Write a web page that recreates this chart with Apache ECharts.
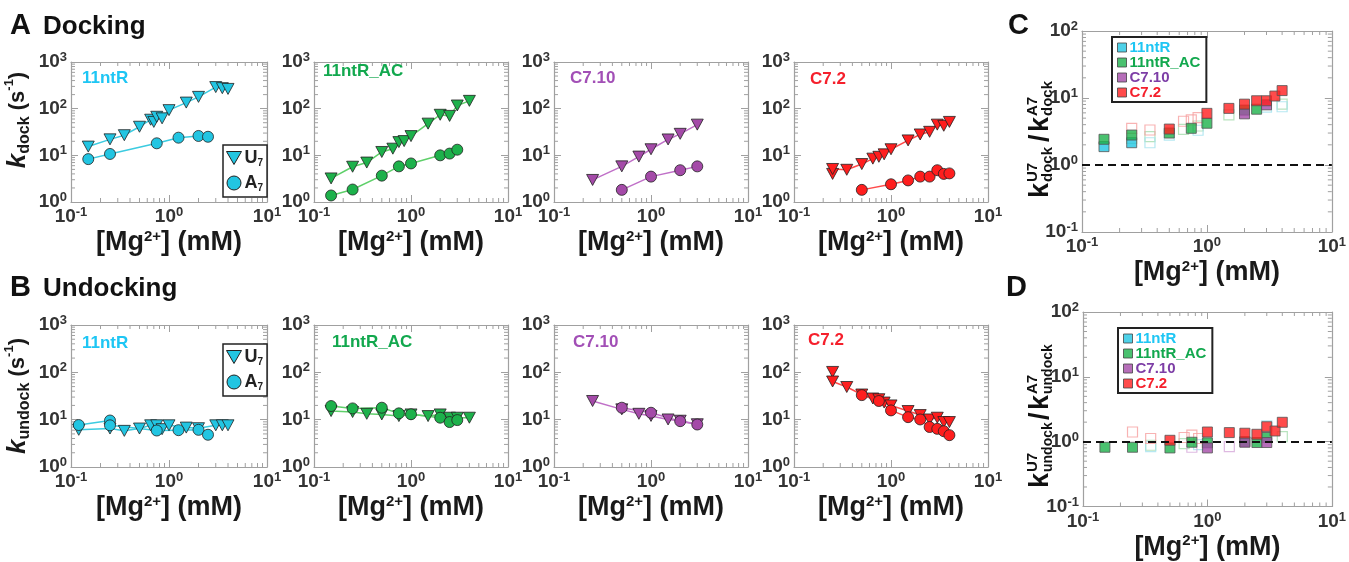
<!DOCTYPE html>
<html>
<head>
<meta charset="utf-8">
<script src="https://cdn.jsdelivr.net/npm/echarts@6/dist/echarts.min.js"></script>
<style>
html, body { margin: 0; padding: 0; background: #fff; }
#chart { width: 1349px; height: 562px; }
</style>
</head>
<body>
<div id="chart"></div>
<script>
// ---- data: [Mg2+] (mM), rate (s^-1) ----
// panel A, docking
const dock11ntR_U7 = [[0.15, 15.4], [0.25, 22], [0.35, 27], [0.5, 41], [0.65, 58], [0.7, 52], [0.75, 67], [0.85, 62], [1.0, 93], [1.5, 135], [2.0, 179], [3.0, 290], [3.5, 275], [4.0, 265]];
const dock11ntR_A7 = [[0.15, 8.3], [0.25, 10.7], [0.75, 18.1], [1.25, 23.9], [2.0, 26], [2.5, 25]];
const dock11ntRAC_U7 = [[0.15, 3.2], [0.25, 5.7], [0.35, 7.0], [0.5, 11.8], [0.65, 13.9], [0.75, 19.2], [0.85, 20.2], [1.0, 25.8], [1.5, 47.8], [2.0, 74], [2.5, 70], [3.0, 117], [4.0, 147]];
const dock11ntRAC_A7 = [[0.15, 1.38], [0.25, 1.85], [0.5, 3.67], [0.75, 5.8], [1.0, 6.7], [2.0, 10.0], [2.5, 10.9], [3.0, 13.2]];
const dockC710_U7 = [[0.25, 2.97], [0.5, 5.8], [0.75, 9.4], [1.0, 13.5], [1.5, 21.9], [2.0, 28.9], [3.0, 45.5]];
const dockC710_A7 = [[0.5, 1.82], [1.0, 3.5], [2.0, 4.8], [3.0, 5.8]];
const dockC72_U7 = [[0.25, 4.0], [0.25, 5.1], [0.35, 4.9], [0.5, 6.5], [0.65, 8.5], [0.75, 9.3], [0.85, 10.5], [1.0, 13.5], [1.5, 20.9], [2.0, 28], [2.5, 31.9], [3.0, 45.5], [3.5, 43], [4.0, 52]];
const dockC72_A7 = [[0.5, 1.82], [1.0, 2.4], [1.5, 2.9], [2.0, 3.5], [2.5, 3.5], [3.0, 4.8], [3.5, 4.0], [4.0, 4.1]];

// panel B, undocking
const undock11ntR_U7 = [[0.12, 6.1], [0.25, 6.5], [0.35, 5.8], [0.5, 6.5], [0.65, 7.6], [0.75, 7.6], [0.85, 6.3], [1.0, 7.6], [1.5, 6.8], [2.0, 6.6], [3.0, 7.6], [3.5, 7.6], [4.0, 7.6]];
const undock11ntR_A7 = [[0.12, 7.7], [0.25, 9.6], [0.25, 7.6], [0.75, 5.9], [1.25, 6.0], [2.0, 6.1], [2.5, 4.8]];
const undock11ntRAC_U7 = [[0.15, 15.2], [0.25, 14.5], [0.35, 13.3], [0.5, 12.9], [0.75, 11.9], [1.0, 12.9], [1.5, 11.9], [2.0, 12.9], [2.5, 11], [3.0, 11], [4.0, 11]];
const undock11ntRAC_A7 = [[0.15, 19.4], [0.25, 17.3], [0.5, 17.9], [0.75, 13.6], [1.0, 13], [2.0, 11], [2.5, 8.9], [3.0, 9.8]];
const undockC710_U7 = [[0.25, 24.8], [0.5, 16.5], [0.75, 13.3], [1.0, 12], [1.5, 10.1], [2.0, 9.5], [3.0, 8]];
const undockC710_A7 = [[0.5, 17.9], [1.0, 14], [2.0, 9.3], [3.0, 7.9]];
const undockC72_U7 = [[0.25, 102], [0.25, 64], [0.35, 49], [0.5, 34], [0.65, 28], [0.75, 27], [0.85, 23], [1.0, 20], [1.5, 15.2], [2.0, 12.5], [2.5, 10.1], [3.0, 11], [3.5, 8.9], [4.0, 8.9]];
const undockC72_A7 = [[0.5, 33], [0.75, 24.8], [1.0, 15.7], [1.5, 11.3], [2.0, 10.1], [2.5, 7], [3.0, 6.4], [3.5, 5.7], [4.0, 4.7]];

// panel C, k_dock(U7)/k_dock(A7): filled and open squares
const ratioDock_11ntR = [[0.15, 1.88], [0.25, 2.15]];
const ratioDock_11ntRAC = [[0.15, 2.42], [0.25, 2.8], [0.5, 3.0], [0.75, 3.53], [1.0, 4.2], [2.0, 6.6], [2.5, 6.8]];
const ratioDock_C710 = [[2.0, 5.8], [3.0, 7.9]];
const ratioDock_C72 = [[0.5, 3.44], [1.0, 5.9], [1.5, 7.0], [2.0, 8.1], [2.5, 9.1], [3.0, 9.1], [3.5, 10.7], [4.0, 12.9]];
const ratioDockOpen_11ntR = [[0.35, 2.15], [0.5, 2.8], [0.85, 3.3], [3.0, 7.3], [4.0, 7.4]];
const ratioDockOpen_11ntRAC = [[0.25, 2.5], [0.35, 2.65], [0.65, 3.4], [0.85, 3.82], [1.5, 5.6], [4.0, 8.1]];
const ratioDockOpen_C72 = [[0.25, 3.53], [0.35, 3.33], [0.65, 4.5], [0.75, 4.7], [0.85, 5.08]];

// panel D, k_undock(U7)/k_undock(A7)
const ratioUndock_11ntRAC = [[0.15, 0.82], [0.25, 0.82], [0.5, 0.8], [0.75, 0.98], [1.0, 0.96], [2.0, 1.0], [2.5, 0.97], [3.0, 1.16]];
const ratioUndock_C710 = [[1.0, 0.8], [2.0, 0.98], [3.0, 0.97]];
const ratioUndock_C72 = [[0.5, 1.05], [1.0, 1.41], [1.5, 1.38], [2.0, 1.35], [2.5, 1.3], [3.0, 1.7], [3.5, 1.46], [4.0, 1.99]];
const ratioUndockOpen_11ntR = [[0.35, 0.84], [0.85, 0.9], [3.0, 1.75]];
const ratioUndockOpen_11ntRAC = [[0.35, 0.88], [0.65, 0.93], [4.0, 1.2]];
const ratioUndockOpen_C710 = [[0.75, 0.82], [1.5, 0.84]];
const ratioUndockOpen_C72 = [[0.25, 1.41], [0.35, 1.12], [0.65, 1.16], [0.75, 1.26], [0.85, 1.12]];

const constructs = ['11ntR', '11ntR_AC', 'C7.10', 'C7.2'];

// minor tick positions of the log axes
const minorX = [0.2, 0.3, 0.4, 0.5, 0.6, 0.7, 0.8, 0.9, 2, 3, 4, 5, 6, 7, 8, 9];
const minorYRate = [2, 3, 4, 5, 6, 7, 8, 9, 20, 30, 40, 50, 60, 70, 80, 90, 200, 300, 400, 500, 600, 700, 800, 900];
const minorYRatio = [0.2, 0.3, 0.4, 0.5, 0.6, 0.7, 0.8, 0.9, 2, 3, 4, 5, 6, 7, 8, 9, 20, 30, 40, 50, 60, 70, 80, 90];

// ---- style ----
const FONT = '"Liberation Sans", Arial, sans-serif';
const fill = { '11ntR': '#22c5e2', '11ntR_AC': '#1db14b', 'C7.10': '#a44aa8', 'C7.2': '#ff1e1e' };
const lineCol = { '11ntR': '#3ccbe0', '11ntR_AC': '#5fd06a', 'C7.10': '#c070c8', 'C7.2': '#ff4a4a' };
const labelCol = { '11ntR': '#1ec6f4', '11ntR_AC': '#12a84e', 'C7.10': '#a24fb6', 'C7.2': '#f5202c' };
const legendCol = { '11ntR': '#1ec6f4', '11ntR_AC': '#12a84e', 'C7.10': '#7d3ea6', 'C7.2': '#f5202c' };
const openCol = { '11ntR': '#a4e2ee', '11ntR_AC': '#a6dcae', 'C7.10': '#d6a8da', 'C7.2': '#f6a0a0' };
const frame = '#a0a0a0';
const triDown = 'path://M0,0L10,0L5,8.66Z';

const grids = [
  { left: 71, top: 62, width: 196, height: 140 },
  { left: 314, top: 62, width: 194, height: 140 },
  { left: 554, top: 62, width: 194, height: 140 },
  { left: 794, top: 62, width: 194, height: 140 },
  { left: 71, top: 325, width: 196, height: 142 },
  { left: 314, top: 325, width: 194, height: 142 },
  { left: 554, top: 325, width: 194, height: 142 },
  { left: 794, top: 325, width: 194, height: 142 },
  { left: 1082, top: 31, width: 256, height: 201 },
  { left: 1083, top: 312, width: 256, height: 201 }
];

const tickRich = {
  b: { fontSize: 19, fontWeight: 'bold', color: '#333', fontFamily: FONT, lineHeight: 22 },
  s: { fontSize: 13, fontWeight: 'bold', color: '#333', fontFamily: FONT, lineHeight: 12, verticalAlign: 'top' }
};
function powLabel(v) {
  const e = Math.round(Math.log10(v));
  return '{b|10}{s|' + e + '}';
}
const mgName = '{n|[Mg}{p|2+}{n|] (mM)}';
const mgRich = {
  n: { fontSize: 27, fontWeight: 'bold', color: '#1a1a1a', fontFamily: FONT, lineHeight: 28 },
  p: { fontSize: 15, fontWeight: 'bold', color: '#1a1a1a', fontFamily: FONT, lineHeight: 14, verticalAlign: 'top' }
};
function kRich(shift) {
  return {
    padding: [0, 0, 0, shift],
    rich: {
      k: { fontSize: 26, fontWeight: 'bold', fontStyle: 'italic', color: '#1a1a1a', fontFamily: FONT, lineHeight: 30 },
      d: { fontSize: 16, fontWeight: 'bold', color: '#1a1a1a', fontFamily: FONT, lineHeight: 14, verticalAlign: 'bottom' },
      n: { fontSize: 22, fontWeight: 'bold', color: '#1a1a1a', fontFamily: FONT, lineHeight: 30 },
      p: { fontSize: 13, fontWeight: 'bold', color: '#1a1a1a', fontFamily: FONT, lineHeight: 15, verticalAlign: 'top' }
    }
  };
}

function logAxis(gi, pos, min, max, withLabel, extra) {
  return Object.assign({
    type: 'log', logBase: 10, gridIndex: gi, position: pos, min: min, max: max,
    axisLine: { show: true, onZero: false, lineStyle: { color: frame, width: 1.2 } },
    axisTick: { show: true, inside: true, length: 7, lineStyle: { color: frame, width: 1 } },
    minorTick: { show: false },
    splitLine: { show: false },
    axisLabel: { show: withLabel, formatter: powLabel, rich: tickRich, margin: 4, hideOverlap: false },
    nameLocation: 'middle'
  }, extra || {});
}

const xAxes = [], yAxes = [];
grids.forEach(function (g, gi) {
  const ratio = gi >= 8;
  const yMin = ratio ? 0.1 : 1, yMax = ratio ? 100 : 1000;
  xAxes.push(logAxis(gi, 'bottom', 0.1, 10, true, { name: mgName, nameGap: 27, nameTextStyle: { rich: mgRich } }));
  xAxes.push(logAxis(gi, 'top', 0.1, 10, false));
  let yExtra = {};
  if (gi === 0) yExtra = { name: '{k|k}{d|dock}{n| (s}{p|-1}{n|)}', nameRotate: 90, nameGap: 38, nameTextStyle: kRich(24) };
  if (gi === 4) yExtra = { name: '{k|k}{d|undock}{n| (s}{p|-1}{n|)}', nameRotate: 90, nameGap: 38, nameTextStyle: kRich(0) };
  yAxes.push(logAxis(gi, 'left', yMin, yMax, true, yExtra));
  yAxes.push(logAxis(gi, 'right', yMin, yMax, false));
});

const series = [];

// minor ticks on all four sides of each frame
function minorTicks(gi, values, isX, other) {
  series.push({
    type: 'custom', xAxisIndex: 2 * gi, yAxisIndex: 2 * gi, silent: true, clip: false, z: 1,
    data: values.map(function (v) { return isX ? [v, other] : [other, v]; }),
    renderItem: function (params, api) {
      const p = api.coord([api.value(0), api.value(1)]);
      const cs = params.coordSys;
      const st = { stroke: frame, lineWidth: 1 };
      const L = 4;
      if (isX) {
        return { type: 'group', children: [
          { type: 'line', shape: { x1: p[0], y1: cs.y + cs.height, x2: p[0], y2: cs.y + cs.height - L }, style: st },
          { type: 'line', shape: { x1: p[0], y1: cs.y, x2: p[0], y2: cs.y + L }, style: st }
        ] };
      }
      return { type: 'group', children: [
        { type: 'line', shape: { x1: cs.x, y1: p[1], x2: cs.x + L, y2: p[1] }, style: st },
        { type: 'line', shape: { x1: cs.x + cs.width, y1: p[1], x2: cs.x + cs.width - L, y2: p[1] }, style: st }
      ] };
    }
  });
}
grids.forEach(function (g, gi) {
  const ratio = gi >= 8;
  minorTicks(gi, minorX, true, ratio ? 1 : 10);
  minorTicks(gi, ratio ? minorYRatio : minorYRate, false, 1);
});

function kinetic(gi, key, u7, a7) {
  series.push({
    name: 'U7', type: 'line', xAxisIndex: 2 * gi, yAxisIndex: 2 * gi, data: u7, z: 3,
    symbol: triDown, symbolSize: [12, 11], lineStyle: { color: lineCol[key], width: 1.5 },
    itemStyle: { color: fill[key], borderColor: '#222', borderWidth: 0.8 }
  });
  series.push({
    name: 'A7', type: 'line', xAxisIndex: 2 * gi, yAxisIndex: 2 * gi, data: a7, z: 3,
    symbol: 'circle', symbolSize: 11, lineStyle: { color: lineCol[key], width: 1.5 },
    itemStyle: { color: fill[key], borderColor: '#222', borderWidth: 0.8 }
  });
}
kinetic(0, '11ntR', dock11ntR_U7, dock11ntR_A7);
kinetic(1, '11ntR_AC', dock11ntRAC_U7, dock11ntRAC_A7);
kinetic(2, 'C7.10', dockC710_U7, dockC710_A7);
kinetic(3, 'C7.2', dockC72_U7, dockC72_A7);
kinetic(4, '11ntR', undock11ntR_U7, undock11ntR_A7);
kinetic(5, '11ntR_AC', undock11ntRAC_U7, undock11ntRAC_A7);
kinetic(6, 'C7.10', undockC710_U7, undockC710_A7);
kinetic(7, 'C7.2', undockC72_U7, undockC72_A7);

function squares(gi, key, data, open, withLine) {
  const s = {
    name: open ? key + ' open' : key, type: 'scatter', xAxisIndex: 2 * gi, yAxisIndex: 2 * gi, data: data, z: 3,
    symbol: 'rect', symbolSize: 10,
    itemStyle: open ? { color: 'rgba(255,255,255,0)', borderColor: openCol[key], borderWidth: 1.2 }
                    : { color: fill[key], borderColor: '#555', borderWidth: 1 }
  };
  if (withLine) {
    s.markLine = {
      silent: true, symbol: 'none', label: { show: false },
      lineStyle: { type: [8, 5], color: '#111', width: 2 },
      data: [{ yAxis: 1 }]
    };
  }
  series.push(s);
}
squares(8, '11ntR_AC', ratioDockOpen_11ntRAC, true, true);
squares(8, '11ntR', ratioDockOpen_11ntR, true);
squares(8, 'C7.2', ratioDockOpen_C72, true);
squares(8, '11ntR', ratioDock_11ntR, false);
squares(8, '11ntR_AC', ratioDock_11ntRAC, false);
squares(8, 'C7.10', ratioDock_C710, false);
squares(8, 'C7.2', ratioDock_C72, false);

squares(9, '11ntR_AC', ratioUndockOpen_11ntRAC, true, true);
squares(9, '11ntR', ratioUndockOpen_11ntR, true);
squares(9, 'C7.10', ratioUndockOpen_C710, true);
squares(9, 'C7.2', ratioUndockOpen_C72, true);
squares(9, '11ntR_AC', ratioUndock_11ntRAC, false);
squares(9, 'C7.10', ratioUndock_C710, false);
squares(9, 'C7.2', ratioUndock_C72, false);

// ---- legends ----
function kLegend(left, top) {
  return {
    left: left, top: top, orient: 'vertical', selectedMode: false,
    backgroundColor: '#fff', borderColor: '#222', borderWidth: 1.5, padding: [4, 4, 4, 3],
    itemWidth: 15, itemHeight: 14, itemGap: 6,
    data: [
      { name: 'U7', icon: triDown, itemStyle: { color: fill['11ntR'], borderColor: '#222', borderWidth: 1 } },
      { name: 'A7', icon: 'circle', itemStyle: { color: fill['11ntR'], borderColor: '#222', borderWidth: 1 } }
    ],
    formatter: function (n) { return '{m|' + n[0] + '}{s|' + n.slice(1) + '}'; },
    textStyle: {
      padding: [0, 0, 0, -2],
      rich: {
        m: { fontSize: 18, fontWeight: 'bold', color: '#222', fontFamily: FONT, lineHeight: 20 },
        s: { fontSize: 10, fontWeight: 'bold', color: '#222', fontFamily: FONT, lineHeight: 10, verticalAlign: 'bottom' }
      }
    }
  };
}
function rLegend(left, top) {
  return {
    left: left, top: top, orient: 'vertical', selectedMode: false,
    backgroundColor: '#fff', borderColor: '#222', borderWidth: 2, padding: [3, 6, 2, 5],
    itemWidth: 9, itemHeight: 9, itemGap: 0,
    data: constructs.map(function (c) {
      return { name: c, icon: 'rect', itemStyle: { color: fill[c], borderColor: '#444', borderWidth: 1 },
               textStyle: { color: legendCol[c] } };
    }),
    textStyle: { fontSize: 15, fontWeight: 'bold', fontFamily: FONT, lineHeight: 14, padding: [0, 0, 0, -2] }
  };
}

// ---- titles / panel labels ----
function txt(text, left, top, size, color) {
  return { text: text, left: left, top: top, padding: 0,
           textStyle: { fontSize: size, fontWeight: 'bold', color: color || '#111', fontFamily: FONT } };
}
const titles = [
  txt('A', 10, 11, 29), txt('Docking', 43, 14, 26),
  txt('B', 10, 273, 29), txt('Undocking', 43, 276, 26),
  txt('C', 1008, 11, 29), txt('D', 1006, 273, 29),
  txt('11ntR', 82, 70, 17, labelCol['11ntR']),
  txt('11ntR_AC', 323, 63, 17, labelCol['11ntR_AC']),
  txt('C7.10', 570, 70, 17, labelCol['C7.10']),
  txt('C7.2', 810, 71, 17, labelCol['C7.2']),
  txt('11ntR', 82, 335, 17, labelCol['11ntR']),
  txt('11ntR_AC', 332, 334, 17, labelCol['11ntR_AC']),
  txt('C7.10', 573, 334, 17, labelCol['C7.10']),
  txt('C7.2', 808, 332, 17, labelCol['C7.2'])
];

// rotated ratio labels for C and D
function ratioLabel(x, y, sub, subSize, w) {
  const t = function (text, lx, ly, size) {
    return { type: 'text', x: lx, y: ly,
             style: { text: text, fontSize: size, fontWeight: 'bold', fontFamily: FONT, fill: '#111',
                      align: 'left', verticalAlign: 'middle' } };
  };
  return {
    type: 'group', x: x, y: y, rotation: Math.PI / 2,
    children: [
      t('k', 0, 0, 27), t('U7', 16, -8, 15), t(sub, 16, 7, subSize),
      t('/', 19 + w, 0, 27),
      t('k', 29 + w, 0, 27), t('A7', 45 + w, -8, 15), t(sub, 45 + w, 7, subSize)
    ]
  };
}

const option = {
  animation: false,
  backgroundColor: '#fff',
  title: titles,
  grid: grids.map(function (g) { return Object.assign({ containLabel: false }, g); }),
  xAxis: xAxes,
  yAxis: yAxes,
  legend: [kLegend(223, 145), kLegend(223, 344), rLegend(1112, 37), rLegend(1118, 328)],
  graphic: [ratioLabel(1041, 198, 'dock', 15, 37), ratioLabel(1041, 488, 'undock', 14, 49)],
  series: series
};

const chart = echarts.init(document.getElementById('chart'), null, { renderer: 'canvas' });
chart.setOption(option);
</script>
</body>
</html>
